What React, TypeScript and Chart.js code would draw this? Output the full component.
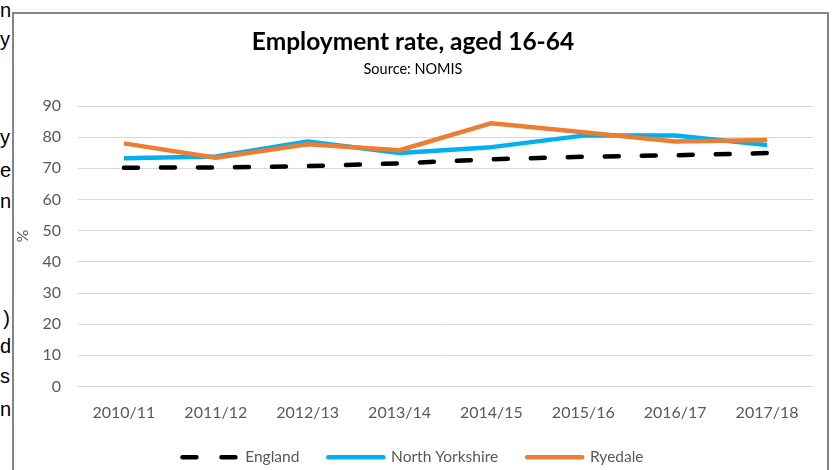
import React, { useEffect, useRef } from 'react';
import { Chart, registerables } from 'chart.js';

Chart.register(...registerables);

// ---- data ----
const categories = ['2010/11', '2011/12', '2012/13', '2013/14', '2014/15', '2015/16', '2016/17', '2017/18'];
const england = [70.2, 70.3, 70.7, 71.6, 72.9, 73.7, 74.2, 74.9];
const northYorkshire = [73.2, 73.8, 78.6, 74.9, 76.8, 80.5, 80.5, 77.5];
const ryedale = [78.0, 73.4, 77.7, 75.8, 84.5, 81.6, 78.6, 79.1];
const seriesNames = ['England', 'North Yorkshire', 'Ryedale'];
const yMin = 0;
const yMax = 90;
const yStep = 10;
const titleText = 'Employment rate, aged 16-64';
const subtitleText = 'Source: NOMIS';
const yAxisLabel = '\u00A0\u00A0\u00A0\u00A0\u00A0%';

// cropped text from the surrounding document (left edge)
const sideFragments = ['n', 'y', 'y', 'e', 'n', ')', 'd', 's', 'n'];
const sideFragmentBaselines = [17, 46, 144, 177, 208, 325, 353, 383, 416];

const FONT = 'Lato, "Noto Sans", sans-serif';

export default function App() {
  const canvasRef = useRef<HTMLCanvasElement | null>(null);

  useEffect(() => {
    const canvas = canvasRef.current;
    if (!canvas) return;
    const chart = new Chart(canvas, {
      type: 'line',
      data: {
        labels: categories,
        datasets: [
          {
            label: seriesNames[0],
            data: england,
            borderColor: '#000000',
            backgroundColor: '#000000',
            borderWidth: 4.5,
            borderDash: [14, 23],
            borderCapStyle: 'round',
            borderJoinStyle: 'round',
            pointRadius: 0,
            tension: 0,
            order: 3,
          },
          {
            label: seriesNames[1],
            data: northYorkshire,
            borderColor: '#00B0F0',
            backgroundColor: '#00B0F0',
            borderWidth: 4.5,
            borderCapStyle: 'butt',
            borderJoinStyle: 'round',
            pointRadius: 0,
            tension: 0,
            order: 2,
          },
          {
            label: seriesNames[2],
            data: ryedale,
            borderColor: '#ED7D31',
            backgroundColor: '#ED7D31',
            borderWidth: 4.5,
            borderCapStyle: 'butt',
            borderJoinStyle: 'round',
            pointRadius: 0,
            tension: 0,
            order: 1,
          },
        ],
      },
      options: {
        animation: false,
        responsive: false,
        maintainAspectRatio: false,
        devicePixelRatio: 1,
        layout: { padding: { left: 13, right: 20, top: 0, bottom: 0 } },
        scales: {
          x: {
            offset: true,
            grid: { display: false, drawTicks: false },
            border: { display: false },
            ticks: {
              color: '#595959',
              font: { family: FONT, size: 16 },
              padding: 16.4,
              maxRotation: 0,
              autoSkip: false,
            },
            afterFit: (scale: any) => {
              scale.height = 34;
            },
          },
          y: {
            min: yMin,
            max: yMax,
            grid: { color: '#d9d9d9', lineWidth: 1, drawTicks: false },
            border: { display: false },
            ticks: {
              stepSize: yStep,
              color: '#595959',
              font: { family: FONT, size: 16 },
              padding: 17,
            },
            title: {
              display: true,
              text: yAxisLabel,
              color: '#595959',
              font: { family: FONT, size: 16 },
              padding: { top: 0, bottom: 0 },
            },
            afterFit: (scale: any) => {
              scale.width = 65;
            },
          },
        },
        plugins: {
          title: {
            display: true,
            text: titleText,
            color: '#000000',
            font: { family: FONT, size: 24.5, weight: 'bold' },
            padding: { top: 27.3, bottom: 0 },
          },
          subtitle: {
            display: true,
            text: subtitleText,
            color: '#000000',
            font: { family: FONT, size: 14.5 },
            padding: { top: 4, bottom: 27.9 },
          },
          legend: {
            position: 'bottom',
            labels: {
              usePointStyle: true,
              pointStyleWidth: 55,
              padding: 29,
              color: '#595959',
              font: { family: FONT, size: 15.5 },
              generateLabels: (c: any) =>
                c.data.datasets.map((ds: any, i: number) => ({
                  text: ds.label,
                  fillStyle: ds.borderColor,
                  strokeStyle: ds.borderColor,
                  lineWidth: ds.borderWidth,
                  lineDash: ds.borderDash ? [14, 25] : [],
                  lineDashOffset: 0,
                  lineCap: 'round',
                  lineJoin: 'round',
                  pointStyle: 'line',
                  hidden: false,
                  datasetIndex: i,
                  fontColor: '#595959',
                })),
            },
          },
          tooltip: { enabled: false },
        },
      },
    } as any);
    return () => chart.destroy();
  }, []);

  return (
    <div
      style={{
        position: 'fixed',
        left: 0,
        top: 0,
        width: 833,
        height: 470,
        overflow: 'hidden',
        background: '#ffffff',
      }}
    >
      {sideFragments.map((ch, i) => (
        <div
          key={i}
          style={{
            position: 'absolute',
            left: 0,
            top: sideFragmentBaselines[i] - 17,
            width: 10,
            textAlign: 'right',
            whiteSpace: 'nowrap',
            fontFamily: '"Liberation Sans", Arial, sans-serif',
            fontSize: 20,
            lineHeight: '20px',
            color: '#000',
          }}
        >
          {ch}
        </div>
      ))}
      <div
        style={{
          position: 'absolute',
          left: 12,
          top: 12,
          width: 817,
          height: 480,
          boxSizing: 'border-box',
          border: '2px solid #858585',
          background: '#ffffff',
        }}
      />
      <canvas
        ref={canvasRef}
        width={833}
        height={475}
        style={{ position: 'absolute', left: 0, top: 0, width: 833, height: 475 }}
      />
    </div>
  );
}
